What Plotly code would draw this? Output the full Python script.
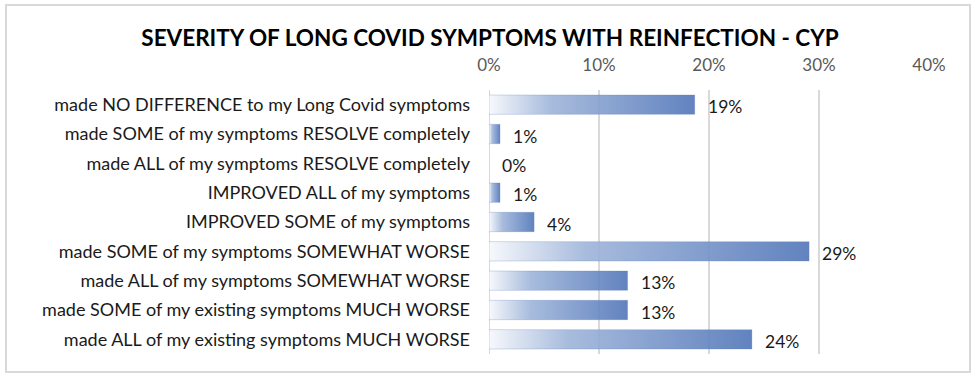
import plotly.graph_objects as go

categories = [
    "made NO DIFFERENCE to my Long Covid symptoms",
    "made SOME of my symptoms RESOLVE completely",
    "made ALL of my symptoms RESOLVE completely",
    "IMPROVED ALL of my symptoms",
    "IMPROVED SOME of my symptoms",
    "made SOME of my symptoms SOMEWHAT WORSE",
    "made ALL of my symptoms SOMEWHAT WORSE",
    "made SOME of my existing symptoms MUCH WORSE",
    "made ALL of my existing symptoms MUCH WORSE",
]
values = [18.7, 1.0, 0.0, 1.0, 4.1, 29.1, 12.6, 12.6, 23.9]
tick_vals = [0, 10, 20, 30, 40]
tick_text = ["0%", "10%", "20%", "30%", "40%"]
title = "SEVERITY OF LONG COVID SYMPTOMS WITH REINFECTION - CYP"

FONT = "Lato"
half = 0.33

fig = go.Figure()
for i, v in enumerate(values):
    if v <= 0:
        continue
    fig.add_trace(go.Scatter(
        x=[0, v, v, 0, 0],
        y=[i - half, i - half, i + half, i + half, i - half],
        mode="lines", line=dict(width=0.6, color="rgba(90,125,190,0.45)"),
        fill="toself",
        fillgradient=dict(type="horizontal",
                          colorscale=[[0, "rgba(246,248,252,0.92)"],
                                      [0.3, "rgba(160,182,218,0.92)"],
                                      [1, "rgba(84,120,186,0.92)"]]),
        hoverinfo="skip", showlegend=False,
    ))

for i, v in enumerate(values):
    fig.add_annotation(x=v, y=i, text=f"{round(v):d}%", showarrow=False,
                       xanchor="left", xshift=11, yshift=-2,
                       font=dict(family=FONT, size=17.5, color="#1a1a1a"))

fig.update_layout(
    width=980, height=377,
    margin=dict(l=489, r=51, t=90, b=23),
    paper_bgcolor="white", plot_bgcolor="white",
    title=dict(text=title, x=0.5, xanchor="center", y=0.9, yanchor="middle",
               font=dict(family=FONT, size=22.5, color="black", weight="bold")),
    xaxis=dict(range=[0, 40], side="top", tickvals=tick_vals, ticktext=tick_text,
               showgrid=True, gridcolor="#d9d9d9", gridwidth=2,
               zeroline=False, showline=False, ticks="",
               ticklabelstandoff=15,
               tickfont=dict(family=FONT, size=17, color="#595959")),
    yaxis=dict(range=[8.5, -0.5], tickvals=list(range(len(categories))), ticktext=categories,
               showgrid=False, zeroline=False, showline=False, ticks="",
               ticklabelstandoff=18,
               tickfont=dict(family=FONT, size=18, color="#1a1a1a")),
    shapes=[
        dict(type="line", xref="x", yref="y", x0=0, x1=0, y0=-0.5, y1=8.5,
             line=dict(color="#d9d9d9", width=2), layer="below"),
        dict(type="rect", xref="paper", yref="paper", x0=-483/440, x1=481/440,
             y0=-18/264, y1=349/264, line=dict(color="#d9d9d9", width=2),
             fillcolor="rgba(0,0,0,0)"),
    ],
)
fig.write_html("out.html", config={"displayModeBar": False},
               post_script="document.body.style.margin='0';")
